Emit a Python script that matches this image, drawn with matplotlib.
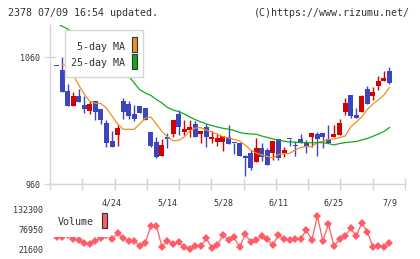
import matplotlib
matplotlib.use("Agg")
import matplotlib.pyplot as plt
from matplotlib.patches import Rectangle
import numpy as np

# ---------------- data ----------------
title_left = "2378 07/09 16:54 updated."
title_right = "(C)https://www.rizumu.net/"

date_labels = ["4/24", "5/14", "5/28", "6/11", "6/25", "7/9"]
date_label_idx = [10, 20, 30, 40, 50, 60]

# OHLC (red = up, blue = down)
opens = [1053.4, 1050.0, 1033.5, 1021.9, 1029.5, 1022.4, 1018.0, 1025.6, 1019.3, 1008.3,
         994.3, 998.8, 1025.4, 1023.2, 1015.4, 1021.7, 1020.3, 1000.9, 993.3, 982.3,
         997.5, 999.6, 1015.4, 1001.4, 1002.8, 1007.7, 999.6, 1005.4, 995.4, 993.5,
         993.5, 997.5, 992.6, 992.3, 982.5, 984.4, 977.8, 988.3, 987.0, 984.9,
         995.7, 984.9, 995.6, 990.4, 995.7, 993.5, 997.5, 999.4, 1000.1, 995.7,
         997.5, 998.8, 1017.2, 1030.3, 1014.6, 1017.2, 1034.8, 1029.5, 1037.4, 1041.3,
         1049.2]
closes = [1053.2, 1032.9, 1021.9, 1029.5, 1025.0, 1019.5, 1023.2, 1017.2, 1010.6, 992.8,
          989.6, 1004.1, 1017.2, 1013.8, 1011.4, 1015.9, 1010.6, 990.4, 981.7, 990.9,
          995.7, 1010.6, 1004.9, 1003.5, 1005.1, 997.5, 1002.2, 997.5, 997.5, 996.2,
          998.0, 991.7, 992.3, 982.3, 981.0, 972.6, 988.3, 981.7, 975.2, 994.1,
          981.0, 987.0, 995.4, 990.2, 992.8, 989.6, 1000.1, 995.7, 997.5, 992.3,
          999.6, 1008.0, 1024.3, 1013.8, 1012.4, 1029.5, 1023.2, 1032.9, 1041.3, 1043.5,
          1040.0]
highs = [1053.4, 1060.0, 1039.0, 1032.6, 1035.0, 1029.5, 1025.6, 1025.6, 1019.3, 1010.6,
         1002.2, 1006.7, 1028.2, 1025.8, 1022.4, 1021.7, 1020.3, 1000.9, 997.0, 995.7,
         1000.0, 1010.6, 1018.5, 1010.6, 1010.6, 1010.0, 1002.2, 1007.5, 1002.0, 999.6,
         998.0, 1006.7, 992.6, 992.3, 983.0, 987.0, 996.2, 992.3, 988.3, 994.1,
         995.7, 989.1, 995.6, 994.0, 999.6, 994.5, 1000.1, 1001.4, 1000.1, 1006.7,
         1006.7, 1011.2, 1027.7, 1030.3, 1019.8, 1030.5, 1037.4, 1036.9, 1045.3, 1049.2,
         1052.1]
lows = [1053.2, 1032.9, 1021.9, 1021.9, 1025.0, 1015.9, 1015.3, 1010.6, 1007.5, 989.6,
        989.6, 990.2, 1011.4, 1011.4, 1009.5, 1015.9, 1010.6, 989.6, 981.0, 982.3,
        988.8, 997.0, 998.8, 998.8, 997.5, 997.5, 992.8, 989.6, 992.3, 990.2,
        986.2, 991.7, 983.9, 982.3, 966.5, 971.3, 977.8, 978.6, 975.2, 979.1,
        979.1, 981.7, 990.2, 982.3, 992.8, 984.4, 989.6, 982.3, 988.3, 992.3,
        997.5, 998.8, 1014.6, 1012.4, 1012.4, 1017.2, 1023.2, 1026.4, 1034.3, 1041.3,
        1038.7]

ma5 = [None, 1054.5, 1053.0, 1046.0, 1038.2, 1031.1, 1025.2, 1023.8, 1023.6, 1020.1,
       1013.8, 1007.5, 1003.3, 1003.3, 1003.3, 1007.5, 1012.2, 1013.0, 1007.5, 1001.6,
       997.2, 994.3, 994.6, 997.2, 1002.0, 1004.3, 1004.6, 1002.8, 1001.2, 999.6,
       997.5, 996.5, 995.3, 994.1, 990.9, 987.0, 984.6, 983.1, 981.9, 980.7,
       983.5, 984.1, 984.3, 987.0, 989.0, 989.8, 989.6, 992.9, 993.9, 995.3,
       995.7, 996.7, 998.0, 1005.1, 1009.0, 1013.0, 1018.9, 1023.2, 1026.4, 1030.3,
       1036.4]
ma25 = [1087.0, 1084.5, 1082.3, 1079.1, 1075.2, 1072.0, 1068.1, 1065.0, 1061.8, 1058.7,
        1055.5, 1052.4, 1048.8, 1045.3, 1039.8, 1034.5, 1031.9, 1030.0, 1026.8, 1024.0,
        1020.5, 1018.5, 1017.3, 1015.4, 1013.0, 1010.9, 1009.1, 1007.5, 1006.3, 1005.1,
        1004.1, 1003.4, 1002.4, 1000.8, 1000.0, 999.6, 999.4, 998.0, 996.9, 995.7,
        994.9, 993.9, 993.3, 993.1, 992.9, 992.8, 992.8, 992.8, 992.8, 992.1,
        991.0, 992.1, 992.8, 993.3, 993.7, 994.9, 996.1, 997.8, 999.6, 1001.6,
        1004.7]

volume = [57000, 54800, 61200, 50100, 47300, 39900, 35400, 44600, 53700, 61200,
          50100, 65900, 52000, 44600, 45400, 30700, 39900, 86100, 86100, 28800,
          45400, 36300, 41000, 28800, 22400, 30700, 30700, 52000, 24400, 33500,
          61200, 47300, 54800, 27100, 63100, 42600, 47300, 58400, 49300, 33500,
          61200, 49300, 47300, 50100, 49300, 75000, 47300, 113800, 44600, 90800,
          30700, 49300, 58400, 79700, 58400, 93600, 70300, 28800, 30700, 28800,
          38200]

price_ticks = [960, 1060]
vol_ticks = [21600, 76950, 132300]

# ---------------- style ----------------
W, H = 420, 259
DPI = 100
RED = "#d40000"
BLUE = "#3c44be"
ORANGE = "#f0901c"
GREEN = "#10aa18"
VOLC = "#ff5c66"
GRID = "#d6d6d6"
TXT = "#333333"
FONT = "DejaVu Sans Mono"

plt.rcParams["font.family"] = FONT

fig = plt.figure(figsize=(W / DPI, H / DPI), dpi=DPI)
fig.patch.set_facecolor("white")


def fx(px):
    return px / W


def fy(py):
    return 1 - py / H


# main axes in pixel geometry
L, R, T, B = 50, 405, 25, 184.3
ax = fig.add_axes([fx(L), fy(B), fx(R - L), (B - T) / H])
n = len(opens)
idx = np.arange(n)
step = 5.55
first_px = 56.5
x_lo = (L - first_px) / step
x_hi = (R - first_px) / step
ax.set_xlim(x_lo, x_hi)
ax.set_ylim(960, 960 + (B - T) / 1.27)

bw = 5.0 / step
for i in range(n):
    o, c, h, l = opens[i], closes[i], highs[i], lows[i]
    col = RED if c >= o else BLUE
    ax.plot([i, i], [l, h], color=col, lw=1.0, solid_capstyle="butt", zorder=3)
    bot = min(o, c)
    hgt = max(abs(c - o), 0.9)
    ax.add_patch(Rectangle((i - bw / 2, bot), bw, hgt, facecolor=col,
                           edgecolor="none", zorder=4))

m5x = [i for i in idx if ma5[i] is not None]
m5y = [ma5[i] for i in m5x]
ax.plot(m5x, m5y, color=ORANGE, lw=0.9, zorder=5)
ax.plot(idx, ma25, color=GREEN, lw=0.9, zorder=5)

for s in ["top", "right"]:
    ax.spines[s].set_visible(False)
for s in ["left", "bottom"]:
    ax.spines[s].set_color(GRID)
    ax.spines[s].set_linewidth(1.0)

ax.set_yticks(price_ticks)
ax.set_yticklabels([str(v) for v in price_ticks])
ax.tick_params(axis="y", direction="inout", length=8, width=1, color=GRID,
               labelsize=6, labelcolor=TXT, pad=3)

ax.set_xticks(date_label_idx)
ax.set_xticklabels(date_labels)
ax.tick_params(axis="x", which="major", length=0, labelsize=6, labelcolor=TXT, pad=10)
ax.set_xticks(np.linspace(x_lo, x_hi, 12), minor=True)
ax.tick_params(axis="x", which="minor", direction="inout", length=8, width=1, color=GRID)

# legend box (main)
fig.patches.append(Rectangle((fx(65), fy(76.7)), fx(78), (76.7 - 30) / H,
                             transform=fig.transFigure, facecolor="white",
                             edgecolor=GRID, lw=1.0, zorder=10))
fig.text(fx(125), fy(46.7), "5-day MA", ha="right", va="center", fontsize=7.2,
         color=TXT, zorder=11)
fig.text(fx(125), fy(63.3), "25-day MA", ha="right", va="center", fontsize=7.2,
         color=TXT, zorder=11)
fig.patches.append(Rectangle((fx(131.7), fy(51.7)), fx(5), 14.4 / H,
                             transform=fig.transFigure, facecolor=ORANGE,
                             edgecolor="#333333", lw=0.8, zorder=11))
fig.patches.append(Rectangle((fx(131.7), fy(69.3)), fx(5), 15.3 / H,
                             transform=fig.transFigure, facecolor=GREEN,
                             edgecolor="#333333", lw=0.8, zorder=11))

# volume axes
VT, VB = 209.3, 249.3
axv = fig.add_axes([fx(L), fy(VB), fx(R - L), (VB - VT) / H])
axv.set_xlim(x_lo, x_hi)
axv.set_ylim(vol_ticks[0], vol_ticks[-1])
axv.plot(idx, volume, color=VOLC, lw=0.9, marker="D", markersize=4.2,
         markeredgewidth=0, clip_on=False, zorder=3)
for s in axv.spines.values():
    s.set_visible(False)
axv.set_xticks([])
axv.set_yticks(vol_ticks)
axv.set_yticklabels([str(v) for v in vol_ticks])
axv.tick_params(axis="y", length=0, labelsize=6, labelcolor=TXT, pad=5)
axv.patch.set_alpha(0)

# volume legend (white box covering part of the line)
fig.patches.append(Rectangle((fx(52), fy(237.4)), fx(58), (237.4 - 207) / H,
                             transform=fig.transFigure, facecolor="white",
                             edgecolor="none", zorder=10))
fig.text(fx(58), fy(222.3), "Volume", ha="left", va="center", fontsize=7.2,
         color=TXT, zorder=11)
fig.patches.append(Rectangle((fx(101.7), fy(228)), fx(5.6), 14.7 / H,
                             transform=fig.transFigure, facecolor=VOLC,
                             edgecolor="#333333", lw=0.8, zorder=11))

# header texts
fig.text(fx(8), fy(13), title_left, ha="left", va="center", fontsize=7.2, color=TXT)
fig.text(fx(410), fy(13), title_right, ha="right", va="center", fontsize=7.2, color=TXT)

fig.savefig("out.png", dpi=DPI, facecolor="white")
